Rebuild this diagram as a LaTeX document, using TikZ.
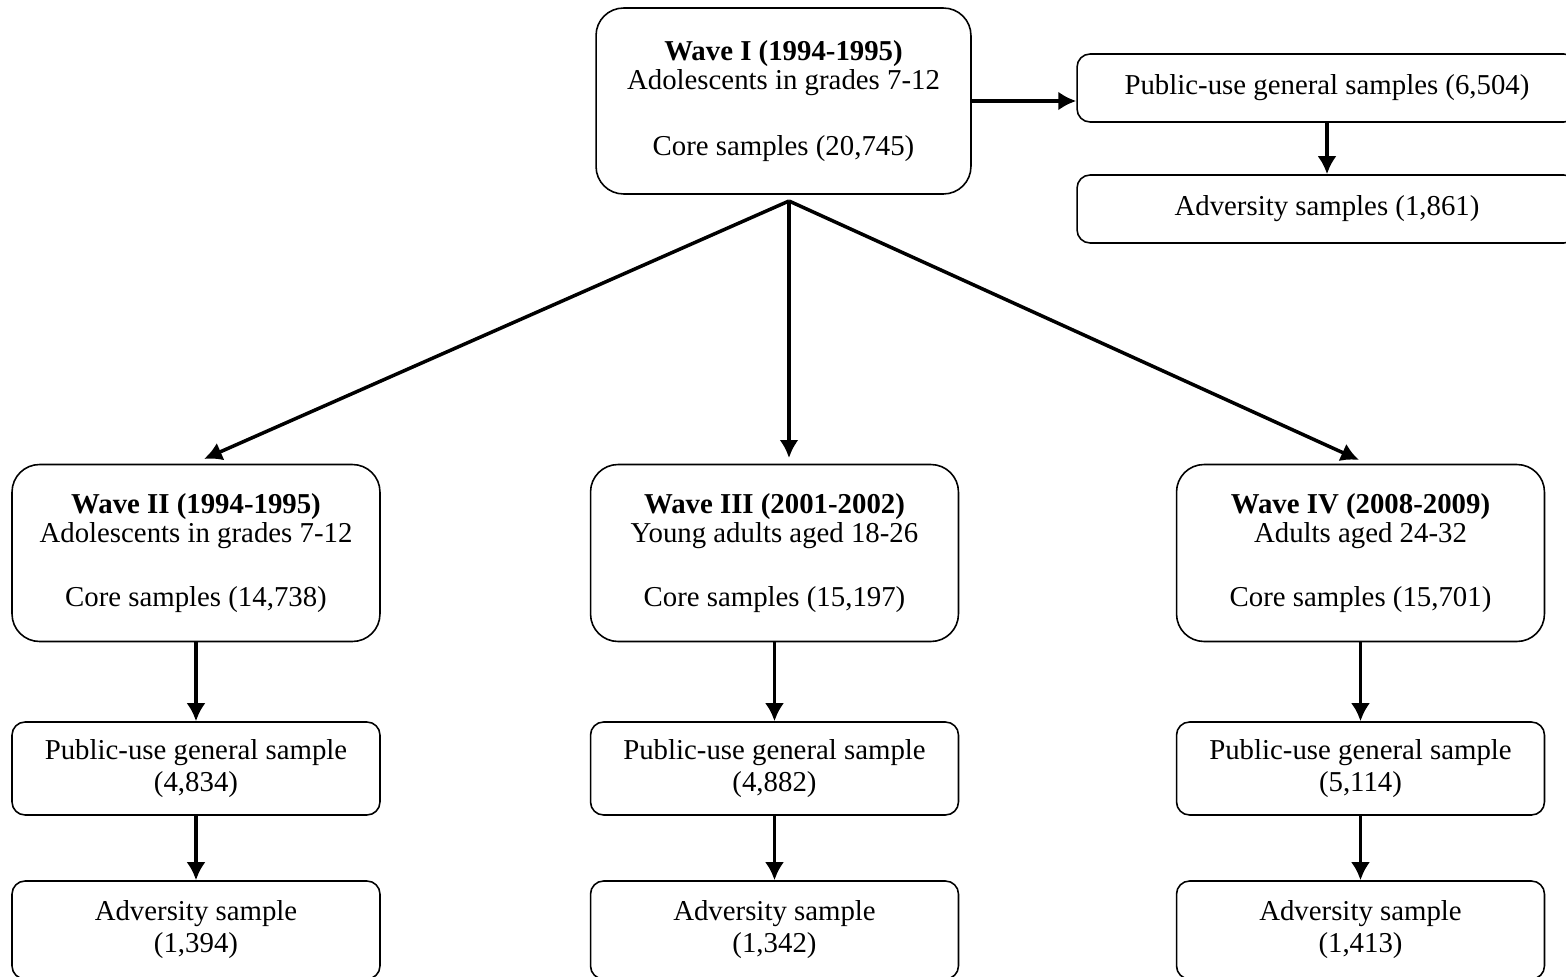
\documentclass[tikz,border=0pt]{standalone}
\usepackage{fontspec}
\setmainfont{Liberation Serif}
\usepackage{tikz}
\usetikzlibrary{arrows.meta}
\tikzset{
    every node/.style={align=center, font=\fontsize{16.4}{16.5}\selectfont,},
    wave/.style={draw, rectangle, rounded corners=0.55cm, line width=0.9pt,
        minimum width=7.36cm, minimum height=3.54cm,},
    sample/.style={draw, rectangle, rounded corners=0.26cm, line width=0.9pt,
        minimum width=7.36cm, minimum height=1.86cm,
        font=\fontsize{16.4}{18.2}\selectfont,},
    link/.style={-{Latex[length=3.6mm,width=3.8mm]}, line width=2pt,},
}

\begin{document}
\begin{tikzpicture}[x=0.02cm, y=-0.02cm]
                \useasboundingbox (0,0) rectangle (1566,977);

                \node[wave, minimum width=7.5cm, minimum height=3.72cm] (w1) at (783.5,101)
                    {\textbf{Wave I (1994-1995)}\\Adolescents in grades 7-12\\[21pt]Core samples (20,745)};

                \node[sample, minimum width=10cm, minimum height=1.36cm] (pubA) at (1327,88) {Public-use general samples (6,504)};
                \node[sample, minimum width=10cm, minimum height=1.36cm] (advA) at (1327,209) {Adversity samples (1,861)};

                \node[wave] (w2) at (196,553)
                    {\textbf{Wave II (1994-1995)}\\Adolescents in grades 7-12\\[20pt]Core samples (14,738)};
                \node[wave] (w3) at (774.5,553)
                    {\textbf{Wave III (2001-2002)}\\Young adults aged 18-26\\[20pt]Core samples (15,197)};
                \node[wave] (w4) at (1360.5,553)
                    {\textbf{Wave IV (2008-2009)}\\Adults aged 24-32\\[20pt]Core samples (15,701)};

                \node[sample] (p2) at (196,768.5) {Public-use general sample\\(4,834)};
                \node[sample] (p3) at (774.5,768.5) {Public-use general sample\\(4,882)};
                \node[sample] (p4) at (1360.5,768.5) {Public-use general sample\\(5,114)};

                \node[sample, minimum height=1.96cm] (a2) at (196,930) {Adversity sample\\(1,394)};
                \node[sample, minimum height=1.96cm] (a3) at (774.5,930) {Adversity sample\\(1,342)};
                \node[sample, minimum height=1.96cm] (a4) at (1360.5,930) {Adversity sample\\(1,413)};

                % split below wave I
                \coordinate (fork) at (789,201);
                \coordinate (t2) at (204,459);
                \coordinate (t3) at (789,458);
                \coordinate (t4) at (1359,460);

                \draw[link] (w1.east) to (w1.east -| pubA.west);
                \draw[link] (pubA) to (advA);

                \draw[link] (fork) to (t2);
                \draw[link] (fork) to (t3);
                \draw[link] (fork) to (t4);

                \draw[link] (w2) to (p2);
                \draw[link] (p2) to (a2);
                \draw[link] (w3) to (p3);
                \draw[link] (p3) to (a3);
                \draw[link] (w4) to (p4);
                \draw[link] (p4) to (a4);
            \end{tikzpicture}
\end{document}
